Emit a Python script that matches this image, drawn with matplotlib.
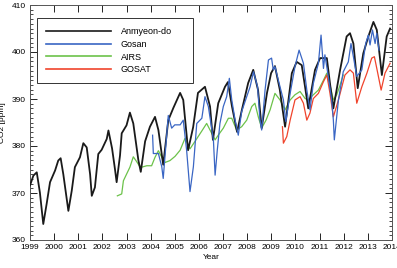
import matplotlib
matplotlib.use("Agg")
import matplotlib.pyplot as plt
from matplotlib.ticker import MultipleLocator

plt.rcParams['font.family'] = ['Liberation Sans', 'DejaVu Sans']

# Anmyeon-do (black)
anm_t = [1999.00, 1999.14, 1999.28, 1999.41, 1999.55, 1999.69, 1999.83, 2000.04, 2000.17, 2000.27,
         2000.38, 2000.59, 2000.73, 2000.86, 2001.07, 2001.21, 2001.35, 2001.49, 2001.56, 2001.69,
         2001.83, 2001.97, 2002.18, 2002.25, 2002.40, 2002.52, 2002.59, 2002.73, 2002.80, 2003.00,
         2003.14, 2003.28, 2003.49, 2003.59, 2003.77, 2003.97, 2004.18, 2004.32, 2004.52, 2004.73,
         2004.94, 2005.22, 2005.35, 2005.55, 2005.76, 2005.96, 2006.25, 2006.46, 2006.58, 2006.80,
         2007.08, 2007.20, 2007.37, 2007.58, 2007.78, 2008.04, 2008.25, 2008.45, 2008.60, 2008.82,
         2008.99, 2009.15, 2009.35, 2009.57, 2009.85, 2010.05, 2010.26, 2010.40, 2010.53, 2010.81,
         2011.02, 2011.30, 2011.43, 2011.57, 2011.85, 2012.12, 2012.26, 2012.40, 2012.58, 2012.81,
         2013.02, 2013.23, 2013.37, 2013.58, 2013.78, 2013.92]
anm_v = [371.6, 373.7, 374.4, 370.1, 363.4, 367.7, 372.3, 374.8, 376.9, 377.4,
         374.0, 366.2, 370.5, 375.5, 377.6, 380.6, 379.7, 374.0, 369.4, 371.2,
         378.3, 379.2, 381.5, 383.3, 379.5, 375.1, 372.3, 378.0, 382.7, 384.4,
         387.1, 384.8, 377.0, 374.5, 381.0, 384.1, 386.2, 383.4, 376.0, 385.5,
         388.1, 391.3, 389.8, 379.1, 384.0, 391.3, 392.6, 388.4, 381.3, 389.1,
         392.6, 393.6, 388.4, 383.0, 387.7, 393.4, 396.2, 391.9, 383.8, 391.3,
         395.5, 397.0, 392.0, 384.1, 395.5, 397.9, 397.2, 392.5, 388.0, 396.2,
         398.7, 398.7, 393.3, 388.0, 396.2, 403.3, 404.0, 401.8, 392.3, 399.7,
         403.3, 406.4, 404.7, 395.1, 403.3, 405.0]

# Gosan (blue)
gos_t = [2004.08, 2004.11, 2004.32, 2004.46, 2004.52, 2004.66, 2004.73, 2004.87, 2005.00, 2005.22,
         2005.35, 2005.49, 2005.63, 2005.77, 2005.91, 2006.12, 2006.25, 2006.39, 2006.60, 2006.67,
         2006.76, 2006.87, 2007.01, 2007.15, 2007.26, 2007.36, 2007.50, 2007.63, 2007.77, 2007.98,
         2008.12, 2008.26, 2008.43, 2008.53, 2008.60, 2008.74, 2008.88, 2009.01, 2009.08, 2009.15,
         2009.36, 2009.50, 2009.60, 2009.78, 2009.98, 2010.15, 2010.33, 2010.47, 2010.60, 2010.74,
         2010.95, 2011.06, 2011.16, 2011.22, 2011.36, 2011.50, 2011.57, 2011.61, 2011.78, 2011.98,
         2012.19, 2012.30, 2012.40, 2012.54, 2012.75, 2012.91, 2013.02, 2013.09, 2013.19, 2013.30,
         2013.37, 2013.46]
gos_v = [382.3, 378.4, 378.4, 375.6, 373.1, 382.0, 386.5, 383.8, 384.5, 384.5,
         385.5, 379.1, 370.3, 375.6, 384.8, 385.9, 390.5, 388.4, 381.3, 373.8,
         379.1, 384.8, 388.4, 390.5, 394.4, 389.8, 385.5, 382.3, 387.3, 390.5,
         392.6, 395.8, 392.6, 385.5, 383.4, 391.9, 398.3, 398.7, 396.2, 396.9,
         392.6, 389.8, 385.2, 391.2, 396.9, 400.4, 397.6, 391.9, 387.7, 393.3,
         397.6, 403.6, 396.5, 399.4, 394.8, 389.8, 385.5, 381.3, 389.8, 395.8,
         397.9, 401.8, 399.0, 394.8, 396.2, 401.8, 403.6, 401.5, 404.7, 401.8,
         404.0, 400.4]

# AIRS (green)
airs_t = [2002.62, 2002.80, 2002.87, 2003.00, 2003.14, 2003.28, 2003.39, 2003.53, 2003.63, 2003.84,
          2004.04, 2004.18, 2004.32, 2004.46, 2004.60, 2004.80, 2005.01, 2005.22, 2005.42, 2005.63,
          2005.84, 2006.12, 2006.32, 2006.53, 2006.67, 2006.80, 2007.01, 2007.22, 2007.36, 2007.56,
          2007.77, 2007.98, 2008.19, 2008.32, 2008.46, 2008.60, 2008.78, 2008.95, 2009.15, 2009.36,
          2009.57, 2009.78, 2009.98, 2010.19, 2010.40, 2010.53, 2010.74, 2010.95, 2011.16, 2011.30,
          2011.43, 2011.57, 2011.71, 2011.85, 2011.98]
airs_v = [369.4, 369.8, 372.6, 374.0, 375.5, 377.7, 376.9, 375.8, 375.5, 375.8,
          375.8, 377.6, 379.0, 377.6, 376.5, 376.9, 377.8, 379.1, 381.6, 379.4,
          381.0, 383.2, 384.8, 382.7, 381.3, 382.3, 383.8, 385.9, 385.9, 383.4,
          384.1, 385.5, 388.4, 389.1, 386.2, 383.8, 385.5, 387.7, 391.2, 389.8,
          387.7, 389.8, 390.9, 391.6, 390.1, 389.8, 390.9, 391.9, 394.0, 395.5,
          393.0, 389.8, 390.9, 393.0, 395.1]

# GOSAT (red)
gosat_t = [2009.46, 2009.50, 2009.64, 2009.78, 2009.98, 2010.19, 2010.33, 2010.47, 2010.60, 2010.74,
           2010.95, 2011.16, 2011.30, 2011.43, 2011.57, 2011.78, 2012.05, 2012.26, 2012.40, 2012.54,
           2012.75, 2012.96, 2013.16, 2013.27, 2013.37, 2013.55, 2013.71, 2013.92]
gosat_v = [384.1, 380.6, 382.0, 385.5, 389.8, 390.5, 389.1, 385.5, 387.0, 390.1,
           391.2, 393.7, 395.1, 391.2, 386.2, 389.8, 395.1, 396.2, 395.5, 389.1,
           392.6, 395.5, 398.7, 399.0, 396.5, 391.9, 395.5, 397.6]

years = list(range(1999, 2015))

fig = plt.figure(figsize=(3.97, 2.68), dpi=100)
ax = fig.add_axes([30 / 397, 28 / 268, 362 / 397, 235 / 268])

ax.plot(anm_t, anm_v, color='#1a1a1a', lw=1.3, label='Anmyeon-do', zorder=3)
ax.plot(gos_t, gos_v, color='#3a66c4', lw=0.9, label='Gosan', zorder=4)
ax.plot(airs_t, airs_v, color='#6cc24a', lw=0.9, label='AIRS', zorder=2)
ax.plot(gosat_t, gosat_v, color='#f0442c', lw=0.9, label='GOSAT', zorder=2)

ax.set_xlim(1999, 2014)
ax.set_ylim(360, 410)
ax.set_xticks(years)
ax.set_xticklabels([str(y) for y in years])
ax.yaxis.set_major_locator(MultipleLocator(10))
ax.yaxis.set_minor_locator(MultipleLocator(1))
ax.tick_params(axis='both', which='major', direction='in', length=5, width=0.6,
               labelsize=6, top=True, right=True, pad=3)
ax.tick_params(axis='y', which='minor', direction='in', length=2.5, width=0.5, right=True)
for s in ax.spines.values():
    s.set_linewidth(0.7)
    s.set_color('#555555')

ax.set_xlabel('Year', fontsize=6, labelpad=2)
ax.set_ylabel('CO2 [ppm]', fontsize=6, labelpad=4)

# legend box spans roughly x 37-193 px, y 18-85 px in the reference
leg = ax.legend(loc='upper left', bbox_to_anchor=(0.019, 0.66, 0.431, 0.285), mode='expand',
                borderaxespad=0, fontsize=6.5, handlelength=7.2, handletextpad=1.1,
                labelspacing=0.42, borderpad=1.0, fancybox=False, edgecolor='#333333',
                framealpha=1)
leg.get_frame().set_linewidth(0.7)
for line in leg.get_lines():
    line.set_linewidth(1.2)

fig.savefig('out.png', dpi=100)
